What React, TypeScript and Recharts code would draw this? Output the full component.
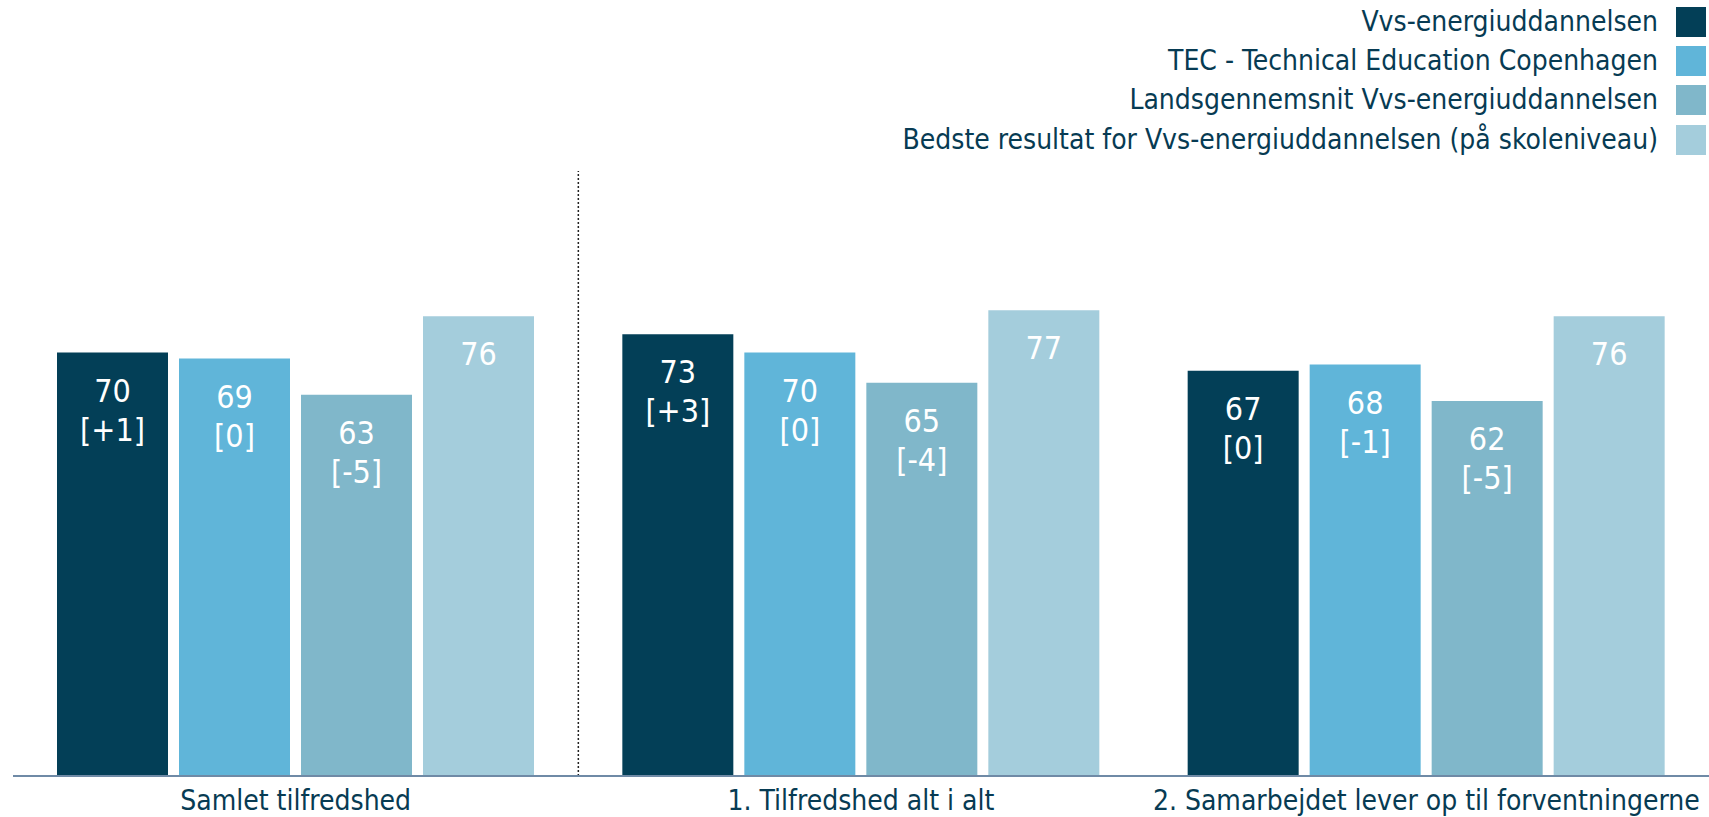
import { Bar, BarChart, LabelList, ReferenceLine, XAxis, YAxis } from "recharts";

const categories = ["Samlet tilfredshed", "1. Tilfredshed alt i alt", "2. Samarbejdet lever op til forventningerne"];

const seriesNames = [
  "Vvs-energiuddannelsen",
  "TEC - Technical Education Copenhagen",
  "Landsgennemsnit Vvs-energiuddannelsen",
  "Bedste resultat for Vvs-energiuddannelsen (på skoleniveau)",
];
const seriesColors = ["#033f57", "#60b5d9", "#80b7ca", "#a4cddc"];

const educationValues = [70, 73, 67];
const educationDeltas = ["+1", "+3", "0"];
const tecValues = [69, 70, 68];
const tecDeltas = ["0", "0", "-1"];
const nationalValues = [63, 65, 62];
const nationalDeltas = ["-5", "-4", "-5"];
const bestValues = [76, 77, 76];

const data = categories.map((name, i) => ({
  name,
  s0: educationValues[i],
  s1: tecValues[i],
  s2: nationalValues[i],
  s3: bestValues[i],
}));
const deltas: (string[] | null)[] = [educationDeltas, tecDeltas, nationalDeltas, null];

const FONT = "'DejaVu Sans Condensed', 'DejaVu Sans', sans-serif";
const TEXT = "#073b53";

const makeLabel = (d: string[] | null) => (props: any) => {
  const { x, y, width, value, index } = props;
  const cx = Number(x) + Number(width) / 2;
  const top = Number(y);
  return (
    <g fontFamily={FONT} fontSize={32} fill="#ffffff" textAnchor="middle" style={{ fontStretch: "condensed" }}>
      <text x={cx} y={top + 49}>{value}</text>
      {d && <text x={cx} y={top + 88}>{`[${d[index]}]`}</text>}
    </g>
  );
};

export default function App() {
  return (
    <div style={{ position: "absolute", left: 0, top: 0, width: 1709, height: 817, background: "#fff" }}>
      <BarChart
        width={1709}
        height={817}
        data={data}
        margin={{ top: 171, right: 0, bottom: 0, left: 13 }}
        barCategoryGap={44}
        barGap={11}
      >
        <XAxis
          dataKey="name"
          axisLine={{ stroke: "#6f8aa6", strokeWidth: 2 }}
          tickLine={false}
          tickSize={0}
          tickMargin={14}
          height={41}
          interval={0}
          tick={{ fontFamily: FONT, fontSize: 28, fill: TEXT, style: { fontStretch: "condensed" } }}
        />
        <YAxis domain={[0, 100]} hide />
        <ReferenceLine x={categories[1]} position="start" stroke="#222" strokeDasharray="2 2" strokeWidth={1.5} />
        {seriesNames.map((n, i) => (
          <Bar key={n} dataKey={`s${i}`} name={n} fill={seriesColors[i]} isAnimationActive={false}>
            <LabelList dataKey={`s${i}`} content={makeLabel(deltas[i])} />
          </Bar>
        ))}
      </BarChart>
      <div
        style={{
          position: "absolute",
          top: 2,
          right: 3,
          fontFamily: FONT,
          fontStretch: "condensed",
          fontSize: 28,
          color: TEXT,
        }}
      >
        {seriesNames.map((n, i) => (
          <div key={n} style={{ display: "flex", justifyContent: "flex-end", alignItems: "center", height: 39.3 }}>
            <span style={{ marginRight: 18, whiteSpace: "nowrap", lineHeight: "30px" }}>{n}</span>
            <span style={{ width: 30, height: 30, background: seriesColors[i], display: "inline-block" }} />
          </div>
        ))}
      </div>
    </div>
  );
}
